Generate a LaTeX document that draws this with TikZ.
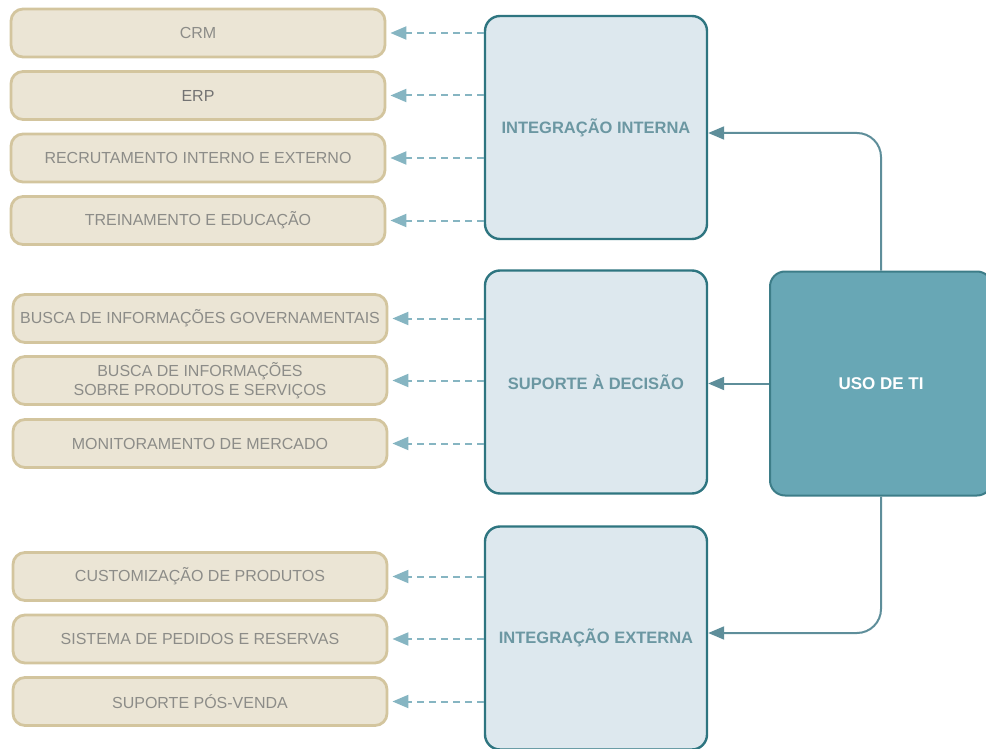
\documentclass[tikz,border=0pt]{standalone}
\usepackage{fontspec}
\setmainfont{Liberation Sans}
\usetikzlibrary{arrows.meta}
\definecolor{tanfill}{HTML}{EBE5D5}
\definecolor{tanline}{HTML}{D3C59E}
\definecolor{graytext}{HTML}{8C8C88}
\definecolor{midfill}{HTML}{DDE8EE}
\definecolor{midline}{HTML}{2E7580}
\definecolor{midtext}{HTML}{6B97A2}
\definecolor{usofill}{HTML}{68A7B5}
\definecolor{usoline}{HTML}{3D7D88}
\definecolor{connline}{HTML}{5E8E9A}
\definecolor{dashline}{HTML}{86B5C2}
\tikzset{
  leafbox/.style={draw=tanline, fill=tanfill, line width=2.8pt, rounded corners=12pt,
    minimum width=374pt, minimum height=48pt, inner sep=0pt, align=center,
    text=graytext, font=\fontsize{16}{19}\selectfont},
  midbox/.style={draw=midline, fill=midfill, line width=2.4pt, rounded corners=15pt,
    minimum width=222pt, minimum height=223pt, inner sep=0pt, align=center,
    text=midtext, font=\bfseries\fontsize{16.5}{19}\selectfont},
  usobox/.style={draw=usoline, fill=usofill, line width=2pt, rounded corners=15pt,
    minimum width=222pt, minimum height=224pt, inner sep=0pt,
    text=white, font=\bfseries\fontsize{17}{19}\selectfont},
  conn/.style={draw=connline, line width=2pt, rounded corners=24pt,
    -{Triangle[length=16pt,width=13pt]}},
  dashconn/.style={draw=dashline, line width=2pt, dash pattern=on 7pt off 5pt,
    -{Triangle[length=16pt,width=13pt]}, shorten >=4pt},
}
\begin{document}
\begin{tikzpicture}[x=1pt,y=-1pt]
\useasboundingbox (0,0) rectangle (986,749);
% middle boxes
\node[midbox] (ii) at (596,127.5) {INTEGRAÇÃO INTERNA};
\node[midbox] (sd) at (596,382) {SUPORTE À DECISÃO};
\node[midbox] (ie) at (596,638) {INTEGRAÇÃO EXTERNA};
% right box
\node[usobox] (uso) at (881,383.5) {USO DE TI};
% left boxes
\node[leafbox] (a1) at (198,33) {CRM};
\node[leafbox, text=black!55] (a2) at (198,95.5) {ERP};
\node[leafbox] (a3) at (198,158) {RECRUTAMENTO INTERNO E EXTERNO};
\node[leafbox] (a4) at (198,220.5) {TREINAMENTO E EDUCAÇÃO};
\node[leafbox] (b1) at (200,318.5) {BUSCA DE INFORMAÇÕES GOVERNAMENTAIS};
\node[leafbox] (b2) at (200,380.5) {BUSCA DE INFORMAÇÕES\\SOBRE PRODUTOS E SERVIÇOS};
\node[leafbox] (b3) at (200,443.5) {MONITORAMENTO DE MERCADO};
\node[leafbox] (c1) at (200,576.5) {CUSTOMIZAÇÃO DE PRODUTOS};
\node[leafbox] (c2) at (200,639) {SISTEMA DE PEDIDOS E RESERVAS};
\node[leafbox] (c3) at (200,701.5) {SUPORTE PÓS-VENDA};
% dashed connectors
\foreach \s/\t in {ii/a1,ii/a2,ii/a3,ii/a4,sd/b1,sd/b2,sd/b3,ie/c1,ie/c2,ie/c3}{
  \draw[dashconn] (\s.west |- \t.east) -- (\t.east);
}
% main connectors
\draw[conn] (uso.north) |- ([yshift=-5.5pt]ii.east);
\draw[conn] (uso.west) -- (uso.west -| sd.east);
\draw[conn] (uso.south) |- ([yshift=5pt]ie.east);
\end{tikzpicture}
\end{document}
